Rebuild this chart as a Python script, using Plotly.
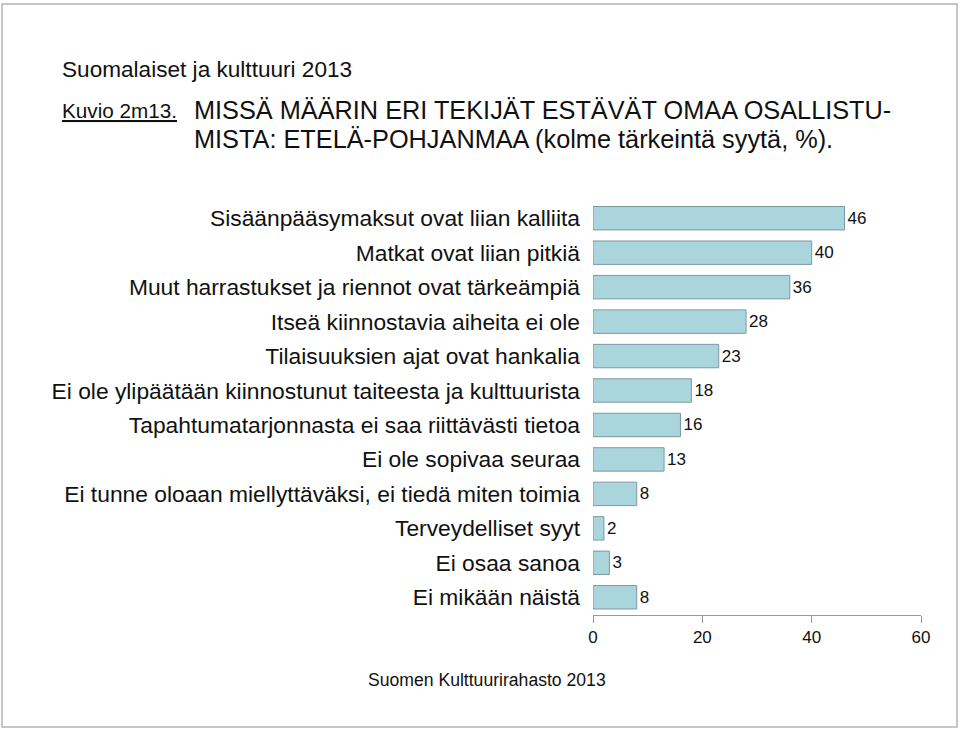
import plotly.graph_objects as go

# syyt ylhäältä alas
syyt = [
    "Sisäänpääsymaksut ovat liian kalliita",
    "Matkat ovat liian pitkiä",
    "Muut harrastukset ja riennot ovat tärkeämpiä",
    "Itseä kiinnostavia aiheita ei ole",
    "Tilaisuuksien ajat ovat hankalia",
    "Ei ole ylipäätään kiinnostunut taiteesta ja kulttuurista",
    "Tapahtumatarjonnasta ei saa riittävästi tietoa",
    "Ei ole sopivaa seuraa",
    "Ei tunne oloaan miellyttäväksi, ei tiedä miten toimia",
    "Terveydelliset syyt",
    "Ei osaa sanoa",
    "Ei mikään näistä",
]
osuudet = [46, 40, 36, 28, 23, 18, 16, 13, 8, 2, 3, 8]
x_ticks = [0, 20, 40, 60]

FONT = "Liberation Sans, Arial, Helvetica, sans-serif"
W, H = 960, 730

fig = go.Figure()
fig.add_trace(go.Bar(
    x=osuudet, y=syyt, orientation="h",
    marker=dict(color="#abd5dd", line=dict(color="#7a9aa0", width=1)),
    width=0.68,
    text=osuudet, textposition="outside", cliponaxis=False,
    textfont=dict(size=17, color="#111111", family=FONT),
    showlegend=False, hoverinfo="x+y",
))

fig.update_layout(
    width=W, height=H,
    margin=dict(l=0, r=0, t=0, b=0),
    paper_bgcolor="white", plot_bgcolor="white",
    font=dict(family=FONT, color="#111111"),
    xaxis=dict(
        domain=[593 / W, 921 / W], range=[0, 60], automargin=False,
        tickvals=x_ticks, ticks="outside", ticklen=7, tickcolor="#999999",
        showline=True, linecolor="#999999", linewidth=1,
        showgrid=False, zeroline=False,
        tickfont=dict(size=17, family=FONT, color="#111111"),
    ),
    yaxis=dict(
        domain=[1 - 614.5 / H, 1 - 201 / H], automargin=False,
        categoryorder="array", categoryarray=syyt,
        autorange="reversed",
        showline=False, showgrid=False, zeroline=False, ticks="",
        ticklabelstandoff=12,
        tickfont=dict(size=22.8, family=FONT, color="#111111"),
    ),
)

# otsikot
fig.add_annotation(text="Suomalaiset ja kulttuuri 2013", x=60 / W, y=1 - 70 / H,
                   xref="paper", yref="paper", xanchor="left", yanchor="middle",
                   showarrow=False, font=dict(size=22.6, family=FONT))
fig.add_annotation(text="<u>Kuvio 2m13.</u>", x=60 / W, y=1 - 111 / H,
                   xref="paper", yref="paper", xanchor="left", yanchor="middle",
                   showarrow=False, font=dict(size=20.7, family=FONT))
fig.add_annotation(text="MISSÄ MÄÄRIN ERI TEKIJÄT ESTÄVÄT OMAA OSALLISTU-",
                   x=192 / W, y=1 - 110 / H,
                   xref="paper", yref="paper", xanchor="left", yanchor="middle",
                   showarrow=False, font=dict(size=25.3, family=FONT))
fig.add_annotation(text="MISTA: ETELÄ-POHJANMAA (kolme tärkeintä syytä, %).",
                   x=192 / W, y=1 - 139 / H,
                   xref="paper", yref="paper", xanchor="left", yanchor="middle",
                   showarrow=False, font=dict(size=25.3, family=FONT))
fig.add_annotation(text="Suomen Kulttuurirahasto 2013", x=487 / W, y=1 - 680 / H,
                   xref="paper", yref="paper", xanchor="center", yanchor="middle",
                   showarrow=False, font=dict(size=17.6, family=FONT))

# kehys
fig.add_shape(type="rect", xref="paper", yref="paper",
              x0=2 / W, x1=957 / W, y0=1 - 727 / H, y1=1 - 4 / H,
              line=dict(color="#b4b4b4", width=1.5))

fig.write_html("out.html", config={"displayModeBar": False},
               post_script="document.body.style.margin='0';"
                           "document.body.style.overflow='hidden';")
